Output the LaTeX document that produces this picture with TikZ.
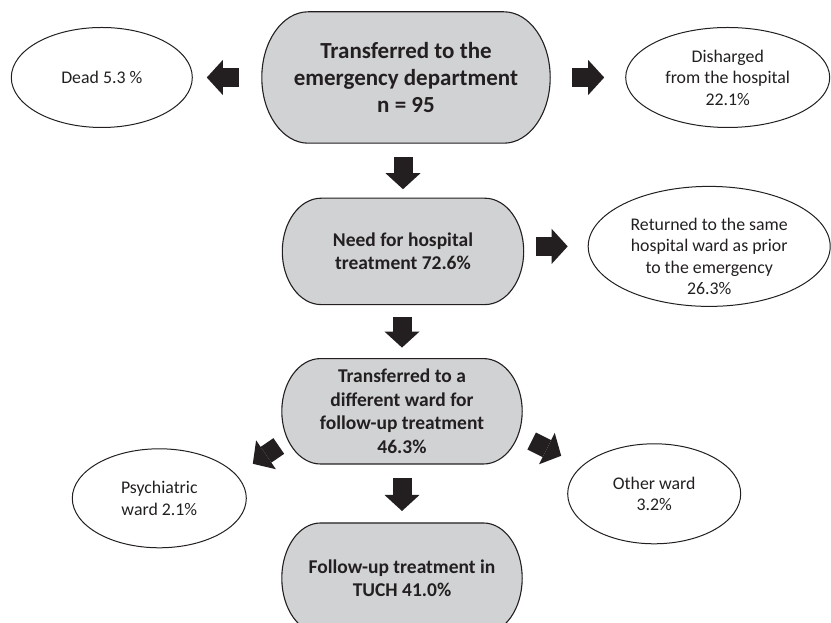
\documentclass[tikz,border=0pt]{standalone}
\usepackage{fontspec}
\setmainfont{Carlito}
\usepackage{tikz}
\usetikzlibrary{arrows.meta,positioning,shapes,calc,backgrounds}
\definecolor{boxgray}{RGB}{209,210,212}
\definecolor{ink}{RGB}{35,31,32}
\tikzstyle{term}=[
	rectangle,
	align=center,
	text=ink,
	font=\fontsize{19.5}{23.5}\selectfont\bfseries,
	minimum width=240pt,
	minimum height=105pt
]
\tikzstyle{termline}=[
	draw=ink,
	fill=boxgray,
	line width=1.1pt
]
\tikzstyle{oval}=[
	ellipse,
	draw=ink,
	line width=1pt,
	inner sep=0pt,
	align=center,
	text=ink,
	font=\fontsize{17.8}{21.5}\selectfont
]
\tikzstyle{blockarrow}=[
	draw=ink,
	line width=19pt,
	-{Triangle[length=16pt,width=35pt,line width=0pt]}
]
% terminator outline round a term node: elliptic ends
\newcommand{\termoutline}[1]{%
  \path[termline] let \p1=(#1.north west), \p2=(#1.south east),
      \n1={0.161*(\x2-\x1)}, \n2={(\y1-\y2)/2} in
    (\x1+\n1,\y1) -- (\x2-\n1,\y1)
    arc[start angle=90, end angle=-90, x radius=\n1, y radius=\n2]
    -- (\x1+\n1,\y2)
    arc[start angle=270, end angle=90, x radius=\n1, y radius=\n2] -- cycle;}

\begin{document}
\begin{tikzpicture}[x=1pt,y=1pt]
\useasboundingbox (0,0) rectangle (831,623);

\node[term, minimum width=288pt, minimum height=131pt,
      font=\fontsize{23}{27}\selectfont\bfseries] (emerg) at (406,545.5)
      {Transferred to the\\emergency department\\n = 95};
\node[term, minimum width=241pt, minimum height=106pt, below=55pt of emerg, xshift=-3pt] (need)
      {Need for hospital\\treatment 72.6\%};
\node[term, below=54pt of need, xshift=-1pt] (transfer)
      {Transferred to a\\different ward for\\follow-up treatment\\46.3\%};
\node[term, minimum height=110pt, below=59pt of transfer] (follow)
      {Follow-up treatment in\\TUCH 41.0\%};

\begin{scope}[on background layer]
\termoutline{emerg}
\termoutline{need}
\termoutline{transfer}
\termoutline{follow}
\end{scope}

\node[oval, minimum width=181pt, minimum height=100pt, left=69pt of emerg] (dead) {Dead 5.3 \%};
\node[oval, minimum width=204pt, minimum height=100pt, right=75pt of emerg] (dis)
      {Disharged\\from the hospital\\22.1\%};
\node[oval, minimum width=242pt, minimum height=120pt, right=64pt of need, yshift=5pt] (ret) {};
\node[oval, draw=none] (rettext) at ([yshift=-10pt]ret.center)
      {Returned to the same\\hospital ward as prior\\to the emergency\\26.3\%};
\node[oval, minimum width=174pt, minimum height=99pt, left=35pt of transfer, yshift=-87pt] (psych)
      {Psychiatric\\ward 2.1\%};
\node[oval, minimum width=173pt, minimum height=100pt, right=45pt of transfer, yshift=-82.5pt] (other)
      {Other ward\\3.2\%};

\coordinate (psychtail) at ([shift={(-3pt,18pt)}]transfer.south west);
\coordinate (psychtip) at ([shift={(6pt,34.5pt)}]psych.east);
\coordinate (othertail) at ([shift={(9.5pt,23pt)}]transfer.south east);
\coordinate (othertip) at ([shift={(-6pt,38pt)}]other.west);

\draw[blockarrow, shorten <=23pt, shorten >=14pt] (emerg) -- (dead);
\draw[blockarrow, shorten <=22pt, shorten >=21pt] (emerg) -- (dis);
\draw[blockarrow, shorten <=14pt, shorten >=9pt] (need |- emerg.south) -- (need.north);
\draw[blockarrow, shorten <=12.5pt, shorten >=20pt] (need.east |- ret) -- (ret.west);
\draw[blockarrow, shorten <=12pt, shorten >=11pt] (transfer |- need.south) -- (transfer.north);
\draw[blockarrow, shorten <=14pt, shorten >=12pt] (transfer.south) -- (follow.north);
\draw[blockarrow] (psychtail) -- (psychtip);
\draw[blockarrow] (othertail) -- (othertip);

\end{tikzpicture}
\end{document}
